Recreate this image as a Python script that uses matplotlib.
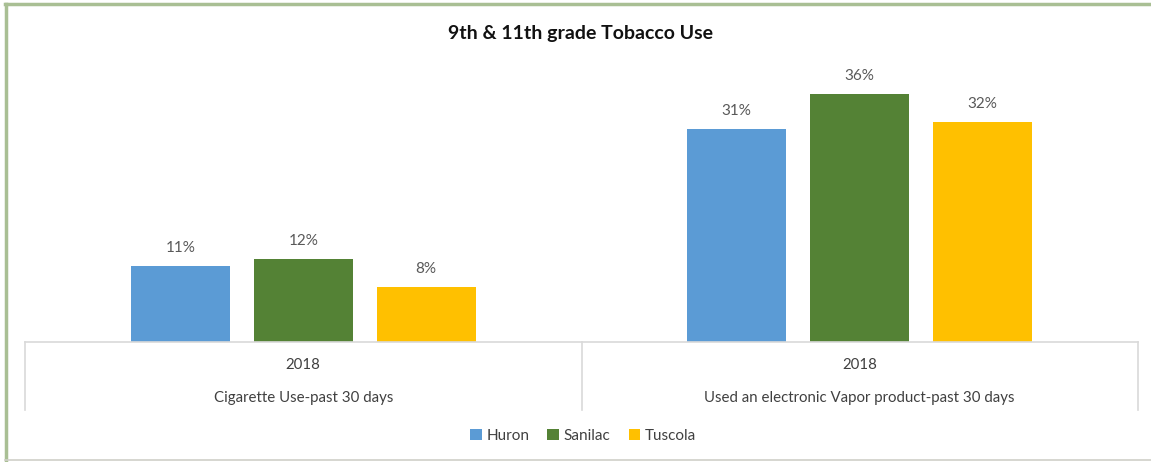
import matplotlib
matplotlib.use('Agg')
import matplotlib.pyplot as plt
from matplotlib.lines import Line2D
import numpy as np

# data
categories = ['Cigarette Use-past 30 days', 'Used an electronic Vapor product-past 30 days']
year_labels = ['2018', '2018']
series = ['Huron', 'Sanilac', 'Tuscola']
huron = [11, 31]
sanilac = [12, 36]
tuscola = [8, 32]
colors = ['#5B9BD5', '#548235', '#FFC000']

plt.rcParams['font.family'] = ['Lato', 'DejaVu Sans']

W, H = 1151, 462
fig = plt.figure(figsize=(W / 100, H / 100), dpi=100)
fig.patch.set_facecolor('white')

# plot area in pixels
left_px, right_px, base_px, top_px = 25, 1138, 342, 60
ax = fig.add_axes([left_px / W, 1 - base_px / H,
                   (right_px - left_px) / W, (base_px - top_px) / H])

x = np.arange(len(categories))
width = 0.178
step = 0.221
for i, (name, vals) in enumerate(zip(series, [huron, sanilac, tuscola])):
    bars = ax.bar(x + (i - 1) * step, vals, width, color=colors[i], label=name)
    for b, v in zip(bars, vals):
        ax.annotate(f'{v}%', (b.get_x() + b.get_width() / 2, v),
                    xytext=(0, 8), textcoords='offset points',
                    ha='center', va='bottom', fontsize=11, color='#595959')

ax.set_xlim(-0.5, len(categories) - 0.5)
ax.set_ylim(0, 41.0)
ax.axis('off')

# category axis drawn like a table
grid_col = '#D9D9D9'
trans = ax.get_xaxis_transform()
depth = (410 - base_px) / (base_px - top_px)
ax.plot([-0.5, len(categories) - 0.5], [0, 0], color=grid_col, lw=1.2,
        transform=trans, clip_on=False)
for xb in np.arange(len(categories) + 1) - 0.5:
    ax.plot([xb, xb], [0, -depth], color=grid_col, lw=1.2,
            transform=trans, clip_on=False)
y_year = -(365 - base_px) / (base_px - top_px)
y_cat = -(398 - base_px) / (base_px - top_px)
for xi, yr, cat in zip(x, year_labels, categories):
    ax.text(xi, y_year, yr, transform=trans, ha='center', va='center',
            fontsize=10.8, color='#404040')
    ax.text(xi, y_cat, cat, transform=trans, ha='center', va='center',
            fontsize=10.8, color='#404040')

fig.text(581 / W, 1 - 33 / H, '9th & 11th grade Tobacco Use', ha='center',
         va='center', fontsize=14, fontweight='bold', color='#111111')

fig.legend(loc='center', bbox_to_anchor=(583 / W, 1 - 436 / H), ncol=3,
           frameon=False, fontsize=11, handlelength=0.75, handleheight=0.75,
           handletextpad=0.3, columnspacing=1.2, labelcolor='#404040')

# outer frame
green = '#A9BF94'
fig.add_artist(Line2D([5 / W, 1], [1 - 4 / H, 1 - 4 / H], color=green, lw=2.5))
fig.add_artist(Line2D([6 / W, 6 / W], [1 - 4 / H, 1 - 460 / H], color=green, lw=2.5))
fig.add_artist(Line2D([5 / W, 1], [1 - 460 / H, 1 - 460 / H], color='#D0D0C8', lw=1.2))

fig.savefig('out.png', dpi=100)
